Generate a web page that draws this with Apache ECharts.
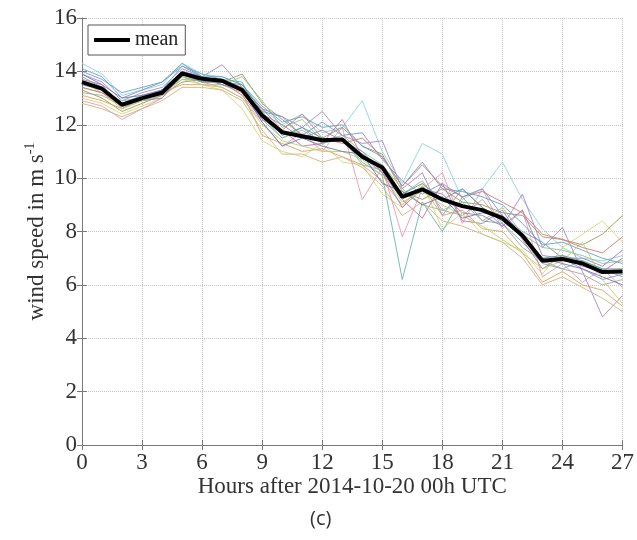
<!DOCTYPE html>
<html>
<head>
<meta charset="utf-8">
<script src="https://cdn.jsdelivr.net/npm/echarts@6/dist/echarts.min.js"></script>
<style>
html,body{margin:0;padding:0;background:#fff;}
#chart{width:637px;height:540px;}
</style>
</head>
<body>
<div id="chart"></div>
<script>
// ---- data ----
const hours = [0,1,2,3,4,5,6,7,8,9,10,11,12,13,14,15,16,17,18,19,20,21,22,23,24,25,26,27];
const xTicks = [0,3,6,9,12,15,18,21,24,27];
const yTicks = [0,2,4,6,8,10,12,14,16];

const meanSpeed = [13.6,13.35,12.75,13.0,13.2,13.92,13.72,13.65,13.3,12.35,11.72,11.57,11.42,11.45,10.8,10.4,9.3,9.58,9.2,8.95,8.8,8.5,7.85,6.9,6.97,6.8,6.48,6.5];

const memberA = [14.3,13.9,13.1,13.3,13.5,14.3,13.9,13.8,13.5,12.6,12.0,12.4,11.7,11.9,12.9,11.0,9.8,11.3,10.9,9.2,9.6,10.6,9.2,8.1,7.4,7.0,6.9,7.1];
const memberB = [13.9,13.6,12.9,13.2,13.4,14.1,13.8,14.25,13.4,12.6,12.3,11.9,12.5,11.6,11.3,11.4,9.6,10.2,8.6,9.6,8.9,8.2,9.4,7.4,8.15,6.5,4.8,5.6];
const memberC = [13.0,12.8,12.4,12.7,13.0,13.7,13.5,13.3,12.6,11.4,11.0,10.8,11.3,10.6,10.5,9.4,8.9,9.8,8.1,8.7,7.9,7.6,7.3,6.4,7.4,7.9,8.4,7.6];
const memberD = [12.9,12.7,12.2,12.6,13.0,13.8,13.6,13.4,13.0,12.1,11.2,11.7,11.0,11.9,9.2,10.4,7.8,9.6,10.2,8.3,9.6,8.1,8.8,6.3,6.8,6.1,6.6,5.9];
const memberE = [13.3,13.0,12.5,12.8,13.1,13.6,13.7,13.6,13.9,12.8,12.2,11.6,11.5,11.9,11.2,10.9,9.5,9.2,9.6,9.1,9.0,8.7,8.6,7.8,7.7,7.5,7.9,8.6];
const memberF = [13.8,13.4,12.8,13.1,13.3,14.2,13.9,13.7,13.6,12.2,11.5,11.9,11.3,11.5,10.6,10.1,6.2,9.1,8.0,9.3,8.4,8.3,7.6,6.8,6.6,6.9,6.6,6.3];
const memberG = [13.1,12.9,12.6,12.9,13.2,13.5,13.5,13.5,13.2,11.6,11.3,11.0,11.1,10.8,10.5,9.9,9.0,9.7,8.6,8.8,8.1,8.0,7.2,6.1,6.5,6.0,5.8,5.2];
const memberH = [14.1,13.8,13.0,13.3,13.6,14.2,13.8,13.6,13.3,12.5,12.3,11.6,12.1,11.6,11.7,10.7,9.9,9.4,9.8,9.3,9.6,8.6,8.0,7.6,7.0,6.6,6.2,6.4];
const memberI = [13.7,13.5,12.6,13.0,13.3,14.0,13.7,13.6,13.1,12.2,11.8,11.2,11.3,12.2,10.8,10.2,9.2,8.5,9.8,8.4,8.3,8.8,7.7,6.6,7.1,6.7,6.5,7.0];
const memberJ = [13.4,13.2,12.9,13.0,13.2,13.7,13.7,13.5,13.8,12.9,11.9,12.2,11.4,11.6,11.0,10.5,9.6,9.0,8.8,9.1,8.4,8.9,7.9,7.4,7.3,7.1,6.8,6.9];
const memberK = [13.2,13.1,12.7,12.9,13.1,13.8,13.6,13.7,13.2,12.3,11.5,11.8,11.3,11.5,10.5,10.3,9.4,9.9,8.8,8.6,9.2,8.3,7.4,6.9,6.6,6.4,6.0,6.2];
const memberL = [12.8,12.6,12.3,12.6,12.9,13.4,13.4,13.3,12.9,11.8,10.9,10.9,10.6,10.8,10.4,9.7,8.6,9.1,8.4,8.2,7.9,7.6,7.0,6.0,6.3,5.9,5.5,5.0];
const memberM = [14.0,13.7,13.2,13.4,13.6,14.3,13.8,13.8,13.5,12.7,12.1,12.3,11.9,12.0,11.2,10.8,9.7,10.6,9.6,9.5,9.3,9.0,8.3,7.5,7.6,7.3,7.0,6.8];
const memberN = [13.5,13.3,12.8,12.9,13.0,13.9,13.6,13.6,13.3,12.4,12.0,11.5,11.8,11.4,11.0,10.2,8.9,9.6,9.4,8.7,8.6,8.2,8.8,7.1,7.0,7.0,6.7,7.3];
const memberO = [13.6,13.2,12.6,12.9,13.2,13.8,13.5,13.4,13.0,12.0,11.4,11.2,11.0,11.0,10.7,10.1,9.1,9.5,9.0,8.6,8.2,7.7,7.2,6.6,6.9,7.6,6.2,5.3];
const memberP = [13.4,13.2,12.7,13.0,13.3,13.9,13.7,13.7,13.4,12.6,11.8,12.4,11.5,11.3,11.5,10.8,9.7,10.5,9.7,9.3,9.5,9.1,8.7,7.9,7.7,7.4,7.2,7.8];
const memberQ = [13.9,13.5,13.0,13.1,13.3,14.0,13.8,13.5,13.3,12.1,11.2,11.5,11.2,11.0,10.9,9.8,9.5,9.0,9.3,8.5,8.7,8.6,7.9,7.0,6.8,6.6,6.3,6.0];
const memberR = [13.6,13.4,12.8,13.0,13.2,14.0,13.6,13.6,13.5,12.5,11.6,11.9,11.5,11.4,10.9,10.4,9.4,9.8,9.2,9.6,8.9,8.4,7.8,7.0,7.1,6.9,6.6,6.6];

const members = [memberA,memberB,memberC,memberD,memberE,memberF,memberG,memberH,memberI,memberJ,memberK,memberL,memberM,memberN,memberO,memberP,memberQ,memberR];
const memberColors = ['#8dd3df','#a887c8','#d6d67a','#e69ab5','#9a9a55','#6cb5aa','#e2a060','#7c92d2','#c870a8','#8cc48c','#a6a6a6','#d3b27f','#62a4c4','#9a7cc0','#b6d46c','#d47a7a','#7676b6','#55a090'];

// ---- chart ----
const FONT = '"Liberation Serif", "Times New Roman", serif';
const pairs = arr => hours.map((h, i) => [h, arr[i]]);

const series = members.map((m, k) => ({
  type: 'line',
  name: 'member' + k,
  data: pairs(m),
  showSymbol: false,
  symbol: 'none',
  silent: true,
  lineStyle: { width: 1, color: memberColors[k], opacity: 0.9 },
  z: 2
}));
series.push({
  type: 'line',
  name: 'mean',
  data: pairs(meanSpeed),
  showSymbol: false,
  symbol: 'none',
  lineStyle: { width: 4, color: '#000' },
  itemStyle: { color: '#000' },
  z: 5
});

const gridLine = { show: true, lineStyle: { color: '#c4c4c4', type: 'dotted', width: 1 } };
const axLine = { show: true, lineStyle: { color: '#7a7a7a', width: 1 } };
const tickIn = { show: true, inside: true, length: 5, lineStyle: { color: '#7a7a7a' } };

const chart = echarts.init(document.getElementById('chart'), null, { renderer: 'canvas' });
chart.setOption({
  animation: false,
  backgroundColor: '#fff',
  grid: { left: 82, right: 12, top: 18, bottom: 95, containLabel: false },
  legend: {
    data: ['mean'],
    left: 88, top: 25,
    icon: 'rect', itemWidth: 36, itemHeight: 4,
    padding: [5, 7, 5, 6],
    backgroundColor: '#fff',
    borderColor: '#555', borderWidth: 1, borderRadius: 0,
    textStyle: { fontFamily: FONT, fontSize: 20, color: '#222' },
    itemStyle: { color: '#000' }
  },
  xAxis: [{
    type: 'value', min: 0, max: 27, interval: 3,
    axisLine: axLine, axisTick: tickIn, splitLine: gridLine,
    axisLabel: { fontFamily: FONT, fontSize: 23, color: '#333', margin: 6,
      formatter: v => xTicks.includes(v) ? String(v) : '' },
    name: 'Hours after 2014-10-20 00h UTC', nameLocation: 'middle', nameGap: 30,
    nameMoveOverlap: false,
    nameTextStyle: { fontFamily: FONT, fontSize: 23, color: '#333' }
  }, {
    type: 'value', min: 0, max: 27, interval: 3, position: 'top',
    axisLine: axLine, axisTick: tickIn, splitLine: { show: false }, axisLabel: { show: false }
  }],
  yAxis: [{
    type: 'value', min: 0, max: 16, interval: 2,
    axisLine: axLine, axisTick: tickIn, splitLine: gridLine,
    axisLabel: { fontFamily: FONT, fontSize: 23, color: '#333', margin: 5,
      formatter: v => yTicks.includes(v) ? String(v) : '' },
    name: '{a|wind speed in m s}{b|-1}', nameLocation: 'middle', nameGap: 31,
    nameMoveOverlap: false,
    nameTextStyle: { fontFamily: FONT, color: '#333',
      rich: {
        a: { fontFamily: FONT, fontSize: 23, color: '#333', lineHeight: 28 },
        b: { fontFamily: FONT, fontSize: 14, color: '#333', verticalAlign: 'top', lineHeight: 14 }
      } }
  }, {
    type: 'value', min: 0, max: 16, interval: 2, position: 'right',
    axisLine: axLine, axisTick: tickIn, splitLine: { show: false }, axisLabel: { show: false }
  }],
  graphic: [{
    type: 'text', left: 310, top: 509,
    style: { text: '(c)', font: '20px "Open Sans", sans-serif', fill: '#333' }
  }],
  series: series
});
</script>
</body>
</html>
